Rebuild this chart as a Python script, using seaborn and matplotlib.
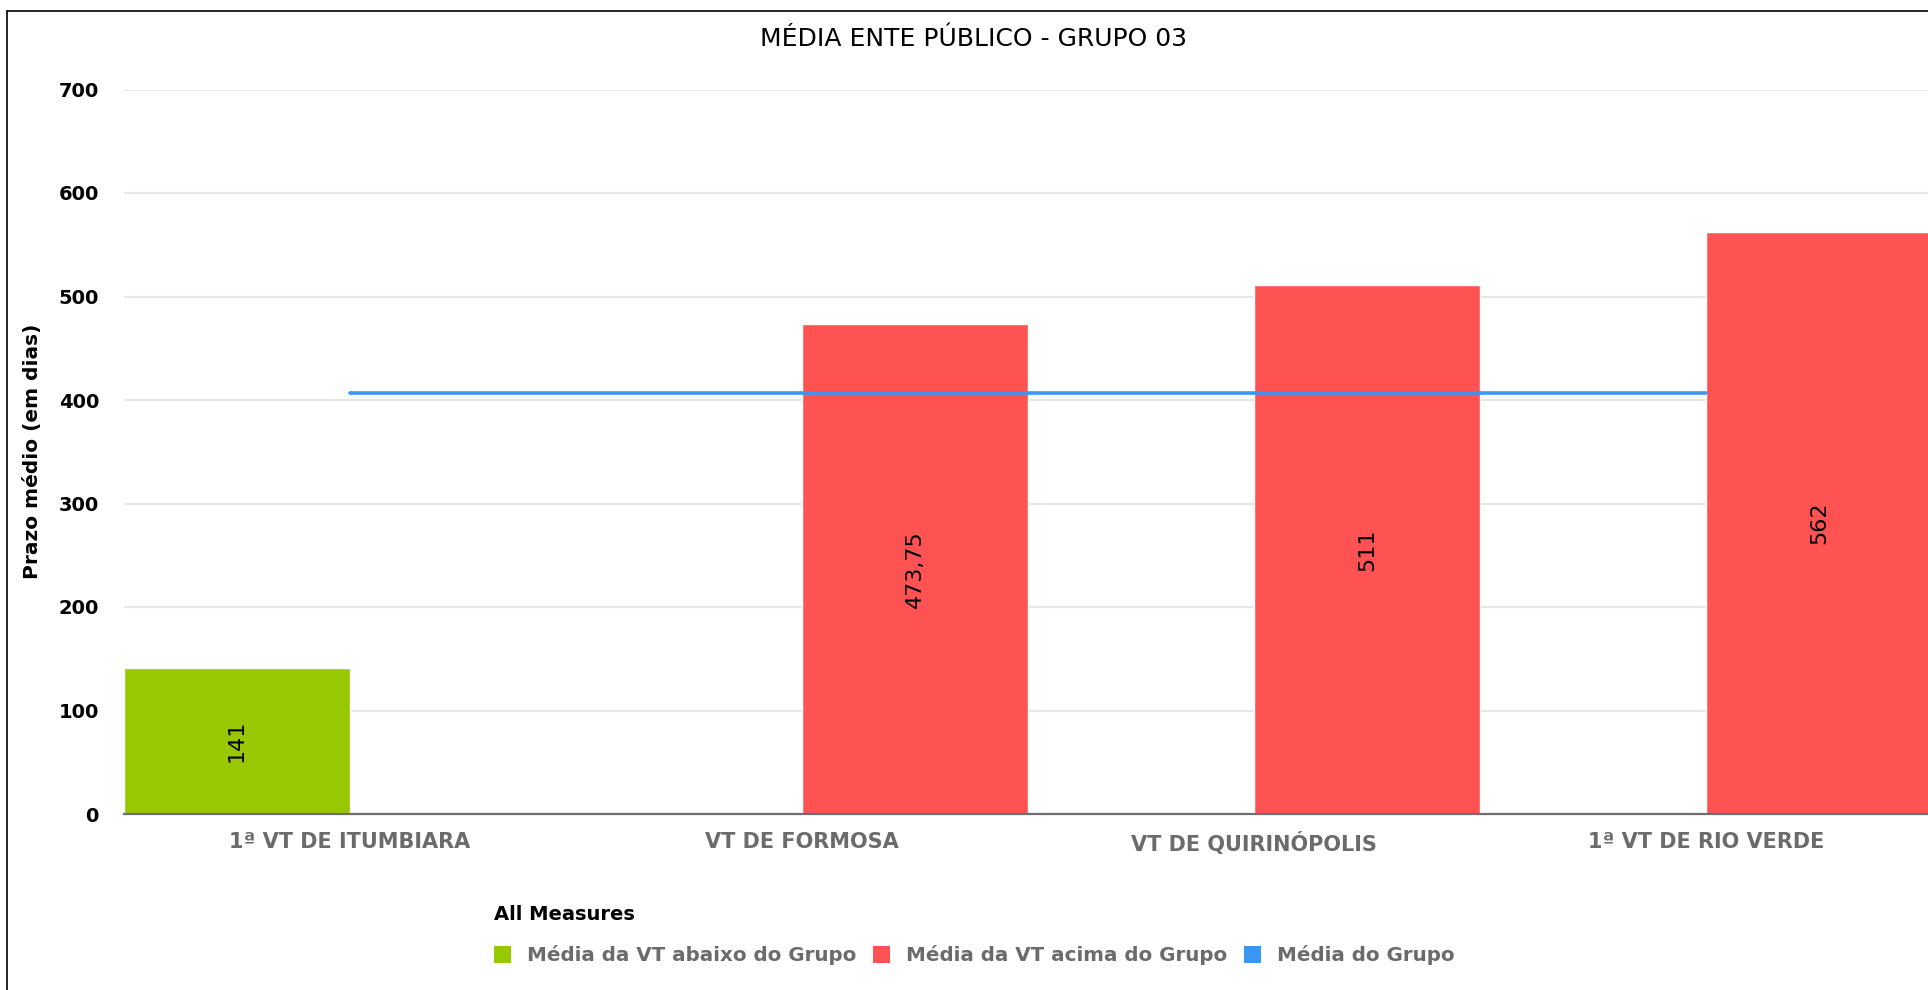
import matplotlib
matplotlib.use("Agg")
import matplotlib.pyplot as plt
from matplotlib.patches import Patch
from matplotlib.lines import Line2D
from matplotlib.ticker import FixedLocator
import seaborn as sns
import pandas as pd

# ---- data ----
categories = ["1ª VT DE ITUMBIARA", "VT DE FORMOSA", "VT DE QUIRINÓPOLIS", "1ª VT DE RIO VERDE"]
prazo_medio = [141, 473.75, 511, 562]
series_labels = ["Média da VT abaixo do Grupo", "Média da VT acima do Grupo", "Média do Grupo"]
serie_por_vt = [series_labels[0], series_labels[1], series_labels[1], series_labels[1]]
media_grupo = [407, 407, 407, 407]
y_ticks = [0, 100, 200, 300, 400, 500, 600, 700]

title = "MÉDIA ENTE PÚBLICO - GRUPO 03"
y_label = "Prazo médio (em dias)"
legend_title = "All Measures"

colors = {series_labels[0]: "#97c800", series_labels[1]: "#ff5353", series_labels[2]: "#3a96f0"}

df = pd.DataFrame({"VT": categories, "Prazo": prazo_medio, "Serie": serie_por_vt})

sns.set_style("white")
plt.rcParams["font.family"] = ["DejaVu Sans"]

W, H = 1928, 990
fig = plt.figure(figsize=(W / 100, H / 100), dpi=100)
ax = fig.add_axes([124 / W, (H - 814) / H, 1808 / W, (814 - 89.5) / H])

sns.barplot(data=df, x="VT", y="Prazo", hue="Serie", order=categories,
            hue_order=series_labels[:2], palette=colors, width=1.0,
            saturation=1, dodge=True, legend=False, ax=ax, zorder=2)

sns.pointplot(x=categories, y=media_grupo, order=categories, color=colors[series_labels[2]],
              markers="", linestyles="-", errorbar=None, ax=ax, linewidth=2.6)
for ln in ax.lines:
    ln.set_zorder(5)

def fmt(v):
    s = f"{v:g}"
    return s.replace(".", ",")

for cont in ax.containers:
    ax.bar_label(cont, fmt=fmt, label_type="center", rotation=90,
                 fontsize=16, color="black")

ax.set_xlim(-0.5, len(categories) - 0.5)
ax.set_ylim(0, 700)
ax.set_yticks(y_ticks)
ax.set_yticklabels([str(t) for t in y_ticks])
ax.set_axisbelow(True)
ax.yaxis.grid(True, color="#e6e6e6", linewidth=1.5)
ax.xaxis.grid(False)

for s in ["left", "top", "right"]:
    ax.spines[s].set_visible(False)
ax.spines["bottom"].set_color("#6e6e6e")
ax.spines["bottom"].set_linewidth(1.6)
ax.spines["bottom"].set_zorder(6)

ax.tick_params(axis="y", which="major", length=8, width=1.5, color="#9a9a9a",
               pad=10, labelsize=14, labelcolor="black")
for lab in ax.get_yticklabels():
    lab.set_fontweight("bold")

ax.set_xticks(range(len(categories)))
ax.set_xticklabels(categories)
ax.tick_params(axis="x", which="major", length=0, pad=13, labelsize=15, labelcolor="#6b6b6b")
for lab in ax.get_xticklabels():
    lab.set_fontweight("bold")
ax.xaxis.set_minor_locator(FixedLocator([i - 0.5 for i in range(len(categories) + 1)]))
ax.tick_params(axis="x", which="minor", length=6, width=1.4, color="#6e6e6e", direction="out")

ax.set_xlabel("")
ax.set_ylabel(y_label, fontsize=14.5, fontweight="bold", color="black", labelpad=12)

fig.text(974 / W, 1 - 39 / H, title, ha="center", va="center", fontsize=18, color="black")

handles = [Patch(facecolor=colors[s], edgecolor="none") for s in series_labels]
leg = fig.legend(handles, series_labels, loc="upper left", bbox_to_anchor=(494 / W, 1 - 905 / H),
                 ncol=3, frameon=False, borderpad=0, borderaxespad=0, fontsize=14.3,
                 handlelength=0.85, handleheight=0.9, handletextpad=0.8, columnspacing=0.85,
                 labelspacing=1.08, title=legend_title, alignment="left",
                 title_fontproperties={"weight": "bold", "size": 14})
for t in leg.get_texts():
    t.set_color("#6b6b6b")
    t.set_fontweight("bold")
leg._legend_title_box._text.set_color("black")

fig.add_artist(Line2D([7 / W, 7 / W], [0, 1 - 11 / H], color="black", linewidth=1.2))
fig.add_artist(Line2D([7 / W, 1.0], [1 - 11 / H, 1 - 11 / H], color="black", linewidth=1.2))

fig.savefig("out.png", dpi=100)
